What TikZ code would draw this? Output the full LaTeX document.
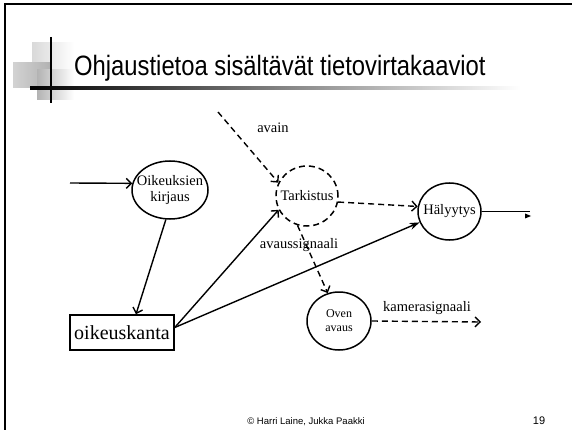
\documentclass[tikz,border=0pt]{standalone}
\usepackage{fontspec}
\setmainfont{Liberation Serif}
\setsansfont{Liberation Sans}
\usetikzlibrary{shapes.geometric,arrows.meta}
\begin{document}
\begin{tikzpicture}[x=1pt,y=-1pt,
  proc/.style={draw,ellipse,line width=1.5pt,inner sep=0pt},
  ptext/.style={align=center,font=\fontsize{14.5}{15.5}\selectfont},
  flow/.style={line width=1.4pt,-{Straight Barb[length=5pt,width=10pt]}},
  ctrl/.style={flow,dash pattern=on 6pt off 4pt},
  lbl/.style={font=\fontsize{14.5}{15}\selectfont,inner sep=0pt}
]
\useasboundingbox (0,0) rectangle (572,430);
\fill[white] (0,0) rectangle (572,430);
% slide frame
\draw[line width=2pt] (5,430) -- (5,4) -- (572,4);
% title decoration
\shade[left color=gray!30,right color=white] (32,43) rectangle (74,70);
\shade[left color=gray!35,right color=gray!60] (13,63) rectangle (50,88);
\shade[left color=gray!60,right color=white] (37,70) rectangle (74,100);
\draw[line width=2.2pt] (51,37) -- (51,103);
\shade[left color=black,middle color=gray!70,right color=white] (30,86.8) rectangle (520,89.6);
\node[anchor=base west,inner sep=0pt] (title) at (74,76)
  {\scalebox{0.85}[1]{\fontsize{28}{30}\selectfont\sffamily Ohjaustietoa sisältävät tietovirtakaaviot}};

% processes
\node[proc,minimum width=76pt,minimum height=58pt,
  label={[ptext]center:Oikeuksien\\kirjaus}] (ok) at (170,190) {};
\node[proc,dash pattern=on 6pt off 4pt,minimum width=62pt,minimum height=60pt,
  label={[ptext]center:Tarkistus}] (tk) at (307,196) {};
\node[proc,minimum width=63pt,minimum height=57pt,
  label={[ptext]center:Hälyytys}] (hal) at (449.5,211.5) {};
\node[proc,minimum width=64pt,minimum height=58pt,
  label={[align=center,font=\fontsize{12}{14}\selectfont]center:Oven\\avaus}] (oven) at (339,321) {};
\node[draw,line width=1.5pt,minimum width=104pt,minimum height=35pt,inner sep=0pt,
  font=\fontsize{20}{22}\selectfont] (kanta) at (122,332.5) {oikeuskanta};

% free ends
\coordinate (in1) at (70,183);
\coordinate (avs) at (218,112);
\coordinate (out1) at (530,211.5);
\coordinate (kam) at (481,322);

% connectors
\draw[flow] (in1) -- (ok.170);
\draw[flow] (ok.262) -- ([xshift=14pt]kanta.north);
\draw[flow] ([yshift=5pt]kanta.east) -- (tk.206);
\draw[line width=1.4pt,-{Stealth[length=10pt,width=7pt]}] ([yshift=5pt]kanta.east) -- (hal.200);
\draw[ctrl] (avs) -- (tk.155);
\draw[ctrl] (tk.349) -- (hal.171);
\draw[ctrl] (tk.252) -- (oven.112);
\draw[ctrl] (oven.east) -- (kam);
\draw[line width=1.4pt] (hal.east) -- (out1);
\fill (525,213.5) -- (531,216) -- (525,218.5) -- cycle;

% labels
\node[lbl] (l1) at (273,128) {avain};
\node[lbl] (l2) at (299,245) {avaussignaali};
\node[lbl] (l3) at (427,308) {kamerasignaali};

% footer
\node[anchor=base,inner sep=0pt,font=\sffamily\fontsize{9.5}{11}\selectfont] (foot) at (306,424) {© Harri Laine, Jukka Paakki};
\node[anchor=base,inner sep=0pt,font=\sffamily\fontsize{11}{12}\selectfont] (pg) at (539,424) {19};
\end{tikzpicture}
\end{document}
